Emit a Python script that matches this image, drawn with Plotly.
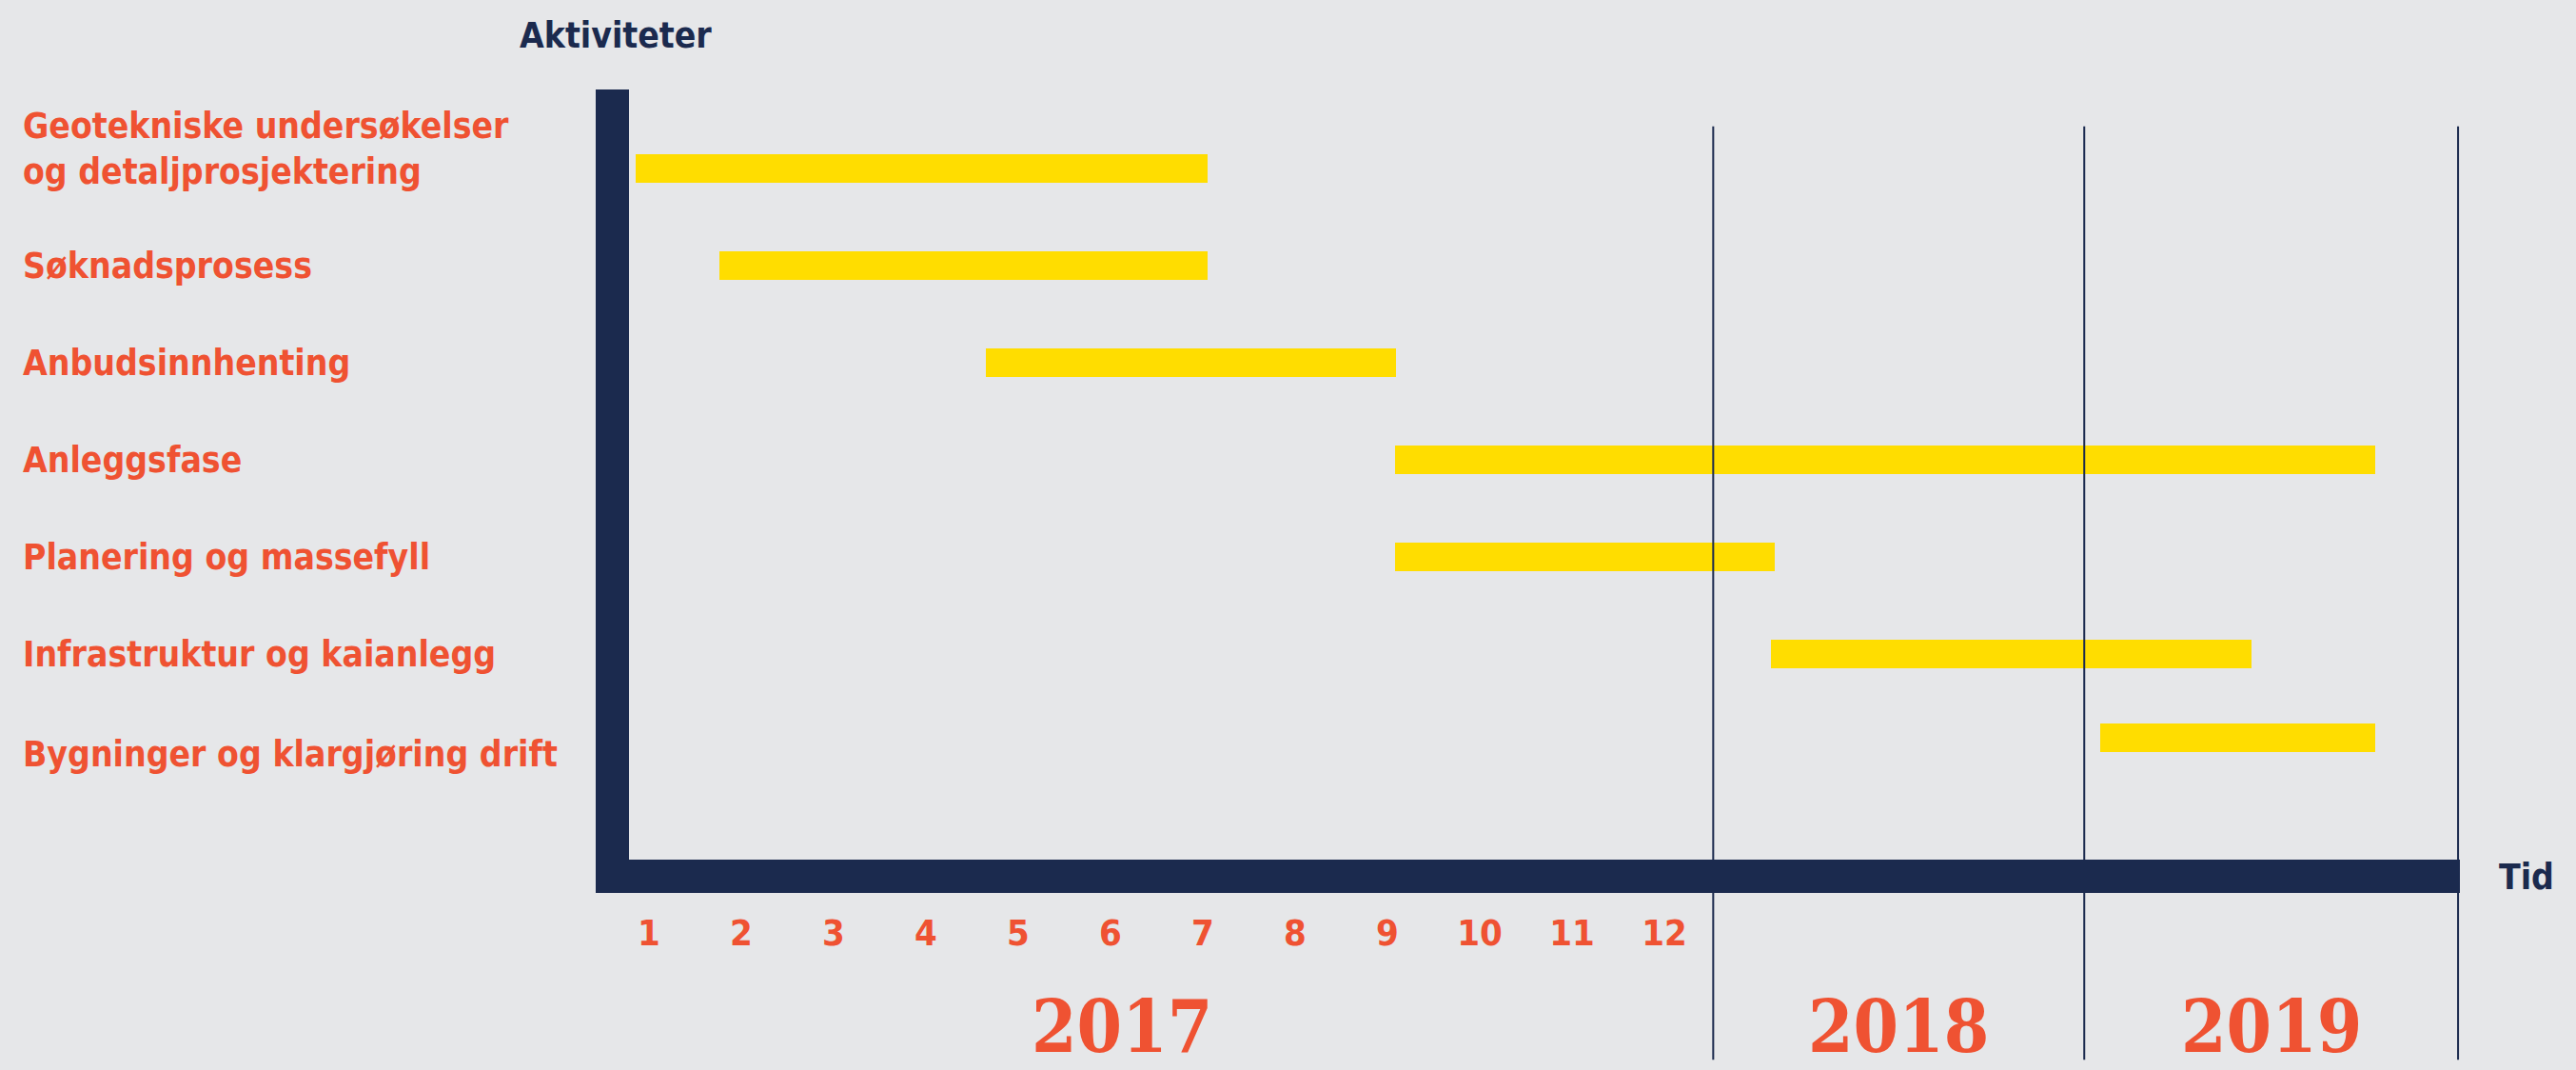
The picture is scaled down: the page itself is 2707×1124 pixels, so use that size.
import plotly.graph_objects as go

# ---------------- data ----------------
activities = [
    "Geotekniske undersøkelser<br>og detaljprosjektering",
    "Søknadsprosess",
    "Anbudsinnhenting",
    "Anleggsfase",
    "Planering og massefyll",
    "Infrastruktur og kaianlegg",
    "Bygninger og klargjøring drift",
]
# start / end in month units on the schematic time axis (1 = Jan 2017)
start_month = [0.86, 1.76, 4.65, 9.08, 9.08, 13.16, 16.72]
end_month = [7.05, 7.05, 9.09, 19.70, 13.20, 18.36, 19.70]

month_ticks = list(range(1, 13))
month_labels = [str(m) for m in month_ticks]

year_labels = ["2017", "2018", "2019"]
year_label_pos = [6.12, 14.54, 18.58]
year_dividers = [12.53, 16.55, 20.60]

# ---------------- style ----------------
BG = "#e6e7e9"
NAVY = "#1b2a4e"
ORANGE = "#ef5232"
YELLOW = "#ffdd00"
SANS = "Liberation Sans Narrow, DejaVu Sans Condensed, Arial Narrow, sans-serif"
SERIF = "DejaVu Serif Condensed, DejaVu Serif, serif"

W, H = 2707, 1124
L, R, T, B = 626, 122, 94, 186

durations = [e - s for s, e in zip(start_month, end_month)]
bar_w = 0.294
offsets = [-bar_w / 2] * len(activities)
offsets[-1] = -bar_w / 2 - 0.137

fig = go.Figure()
fig.add_trace(go.Bar(
    y=activities,
    x=durations,
    base=start_month,
    orientation="h",
    marker=dict(color=YELLOW, line=dict(width=0)),
    width=[bar_w] * len(activities),
    offset=offsets,
    hoverinfo="skip",
    showlegend=False,
))

shapes = []
for xv in year_dividers:
    shapes.append(dict(type="line", xref="x", yref="paper", x0=xv, x1=xv,
                       y0=-0.2075, y1=0.954, line=dict(color=NAVY, width=2), layer="above"))
shapes.append(dict(type="rect", xref="paper", yref="paper", xsizemode="pixel", xanchor=0,
                   x0=0, x1=35, y0=0, y1=1, fillcolor=NAVY, line=dict(width=0), layer="above"))
shapes.append(dict(type="rect", xref="paper", yref="paper", ysizemode="pixel", yanchor=0,
                   x0=0, x1=1, y0=0, y1=35, fillcolor=NAVY, line=dict(width=0), layer="above"))

LABEL_SIZE = 37
annotations = []
for i, name in enumerate(activities):
    annotations.append(dict(
        text=name, xref="paper", yref="y", x=-0.3083, y=i, xanchor="left", yanchor="middle",
        showarrow=False, align="left", yshift=(21 if i == 0 else (-3 if i == len(activities) - 1 else 0)),
        font=dict(family=SANS, size=LABEL_SIZE, color=ORANGE, weight="bold"),
    ))
for txt, xv in zip(year_labels, year_label_pos):
    annotations.append(dict(
        text=txt, xref="x", yref="paper", x=xv, y=-0.166, xanchor="center", yanchor="middle",
        showarrow=False, font=dict(family=SERIF, size=76, color=ORANGE, weight="bold"),
    ))
annotations.append(dict(text="Aktiviteter", xref="paper", yref="paper", x=-0.0419, y=1.0675,
                        xanchor="left", yanchor="middle", showarrow=False,
                        font=dict(family=SANS, size=LABEL_SIZE, color=NAVY, weight="bold")))
annotations.append(dict(text="Tid", xref="paper", yref="paper", x=1.0199, y=0.019,
                        xanchor="left", yanchor="middle", showarrow=False,
                        font=dict(family=SANS, size=LABEL_SIZE, color=NAVY, weight="bold")))

fig.update_layout(
    width=W, height=H,
    margin=dict(l=L, r=R, t=T, b=B, pad=0),
    paper_bgcolor=BG, plot_bgcolor=BG,
    shapes=shapes, annotations=annotations,
    bargap=0,
    xaxis=dict(range=[0.4227, 20.62], tickvals=month_ticks, ticktext=month_labels,
               showgrid=False, zeroline=False, showline=False,
               ticks="outside", ticklen=8, tickcolor="rgba(0,0,0,0)",
               tickfont=dict(family=SANS, size=38, color=ORANGE, weight="bold")),
    yaxis=dict(type="category", categoryorder="array", categoryarray=activities,
               range=[7.46, -0.814], showticklabels=False, showgrid=False,
               zeroline=False, showline=False, ticks=""),
)

fig.write_html(
    "out.html",
    config={"displayModeBar": False},
    post_script="document.body.style.margin='0';document.body.style.background='%s';" % BG,
)
